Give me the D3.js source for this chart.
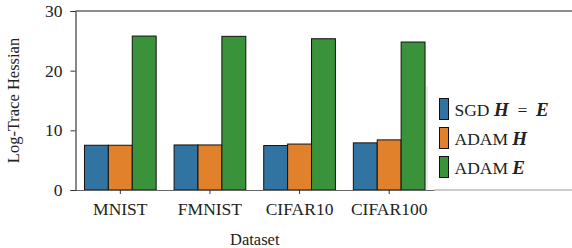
<!DOCTYPE html>
<html>
<head>
<meta charset="utf-8">
<script src="https://cdn.jsdelivr.net/npm/d3@7"></script>
<style>
  body { margin: 0; background: #fff; }
  text { font-family: "Liberation Serif", "DejaVu Serif", serif; fill: #222; }
</style>
</head>
<body>
<svg id="chart" width="572" height="248"></svg>
<script>
const datasets = ["MNIST", "FMNIST", "CIFAR10", "CIFAR100"];
const seriesNames = ["sgd", "adamH", "adamE"];
const sgdValues = [7.5, 7.55, 7.45, 7.9];
const adamHValues = [7.5, 7.55, 7.7, 8.4];
const adamEValues = [25.8, 25.75, 25.35, 24.8];
const yTicks = [0, 10, 20, 30];

const colors = { sgd: "#3274a1", adamH: "#e1812c", adamE: "#3a923a" };
const values = { sgd: sgdValues, adamH: adamHValues, adamE: adamEValues };

const width = 572, height = 248;
const margin = { top: 11, right: 138, bottom: 58, left: 75.5 };

const svg = d3.select("#chart");

const x = d3.scaleBand()
  .domain(datasets)
  .range([margin.left, width - margin.right])
  .paddingInner(0.2)
  .paddingOuter(0.1);

const xInner = d3.scaleBand()
  .domain(seriesNames)
  .range([0, x.bandwidth()]);

const y = d3.scaleLinear()
  .domain([0, 30])
  .range([height - margin.bottom, margin.top]);

// bars
const groups = svg.append("g")
  .selectAll("g")
  .data(datasets)
  .join("g")
    .attr("transform", d => `translate(${ x(d) },0)`);

groups.selectAll("rect")
  .data((d, i) => seriesNames.map(s => ({ s, v: values[s][i] })))
  .join("rect")
    .attr("x", d => xInner(d.s))
    .attr("y", d => y(d.v))
    .attr("width", xInner.bandwidth())
    .attr("height", d => y(0) - y(d.v))
    .attr("fill", d => colors[d.s])
    .attr("stroke", "#111")
    .attr("stroke-width", 1);

// faint legend frame edge
const legend = svg.append("g");
legend.append("line")
  .attr("x1", 427).attr("x2", 427)
  .attr("y1", 86).attr("y2", y(0))
  .attr("stroke", "#dadada");

// y axis
const yAxis = d3.axisLeft(y).tickValues(yTicks).tickSize(5).tickPadding(8);
const gy = svg.append("g")
  .attr("transform", `translate(${ margin.left },0)`)
  .call(yAxis);
gy.select(".domain").attr("stroke", "#111");
gy.selectAll(".tick line").attr("stroke", "#333");
gy.selectAll(".tick text")
  .attr("font-size", 17.5)
  .style("font-family", "'Liberation Serif', serif")
  .attr("fill", "#222");

// x axis
const xAxis = d3.axisBottom(x).tickSize(4).tickPadding(9).tickSizeOuter(0);
const gx = svg.append("g")
  .attr("transform", `translate(0,${ height - margin.bottom })`)
  .call(xAxis);
gx.select(".domain").attr("stroke", "#666");
gx.selectAll(".tick line").attr("stroke", "#333");
gx.selectAll(".tick text")
  .attr("font-size", 17.5)
  .style("font-family", "'Liberation Serif', serif")
  .attr("fill", "#222");

// top spine runs past the crop edge
svg.append("line")
  .attr("x1", margin.left).attr("x2", width)
  .attr("y1", margin.top).attr("y2", margin.top)
  .attr("stroke", "#666")
  .attr("stroke-width", 1.3);

// bottom continuation under the legend
svg.append("line")
  .attr("x1", width - margin.right).attr("x2", width)
  .attr("y1", y(0)).attr("y2", y(0))
  .attr("stroke", "#999");

// axis labels
svg.append("text")
  .attr("x", (margin.left + width - margin.right) / 2)
  .attr("y", 245)
  .attr("text-anchor", "middle")
  .attr("font-size", 16.5)
  .text("Dataset");

svg.append("text")
  .attr("transform", `translate(19,${ (margin.top + y(0)) / 2 }) rotate(-90)`)
  .attr("text-anchor", "middle")
  .attr("font-size", 16.5)
  .text("Log-Trace Hessian");

// legend entries
const legendItems = [
  { s: "sgd", parts: [["SGD\u00a0", false], ["H", true], ["\u2002=\u2002", false], ["E", true]] },
  { s: "adamH", parts: [["ADAM\u00a0", false], ["H", true]] },
  { s: "adamE", parts: [["ADAM\u00a0", false], ["E", true]] }
];

const items = legend.selectAll("g.item")
  .data(legendItems)
  .join("g")
    .attr("class", "item")
    .attr("transform", (d, i) => `translate(439.5,${ 98.5 + i * 29 })`);

items.append("rect")
  .attr("width", 9)
  .attr("height", 21)
  .attr("fill", d => colors[d.s])
  .attr("stroke", "#111")
  .attr("stroke-width", 1);

const labels = items.append("text")
  .attr("x", 15)
  .attr("y", 17)
  .attr("font-size", 17.5);

labels.selectAll("tspan")
  .data(d => d.parts)
  .join("tspan")
    .attr("font-weight", d => d[1] ? "bold" : null)
    .attr("font-style", d => d[1] ? "italic" : null)
    .attr("font-size", d => d[1] ? 19 : null)
    .text(d => d[0]);
</script>
</body>
</html>
